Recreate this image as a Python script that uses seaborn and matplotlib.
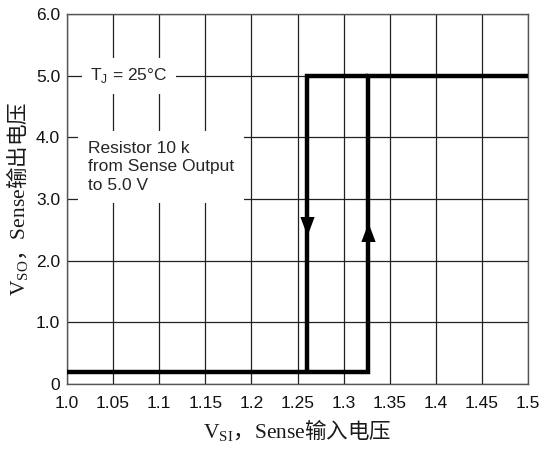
import matplotlib
matplotlib.use("Agg")
import matplotlib.pyplot as plt
import seaborn as sns
import pandas as pd

# Hysteresis of the sense comparator output
seg_rise_x = [1.0, 1.326, 1.326, 1.5]
seg_rise_y = [0.2, 0.2, 5.0, 5.0]
seg_fall_x = [1.326, 1.26, 1.26]
seg_fall_y = [5.0, 5.0, 0.2]

# Direction arrowheads (centre of each head)
arrow_x = [1.26, 1.326]
arrow_y = [2.57, 2.47]
arrow_dir = ["down", "up"]

x_ticks = [1.0, 1.05, 1.1, 1.15, 1.2, 1.25, 1.3, 1.35, 1.4, 1.45, 1.5]
x_tick_labels = ["1.0", "1.05", "1.1", "1.15", "1.2", "1.25", "1.3", "1.35", "1.4", "1.45", "1.5"]
y_ticks = [0, 1, 2, 3, 4, 5, 6]
y_tick_labels = ["0", "1.0", "2.0", "3.0", "4.0", "5.0", "6.0"]

sns.set_style("white")
plt.rcParams["font.family"] = ["Liberation Sans", "DejaVu Sans"]
plt.rcParams["mathtext.fontset"] = "custom"
plt.rcParams["mathtext.rm"] = "Liberation Serif"

fig = plt.figure(figsize=(5.44, 4.5), dpi=100)
ax = fig.add_axes([67 / 544, 1 - 384 / 450, (528 - 67) / 544, (384 - 14) / 450])

df = pd.DataFrame({
    "x": seg_rise_x + seg_fall_x,
    "y": seg_rise_y + seg_fall_y,
    "seg": ["rise"] * len(seg_rise_x) + ["fall"] * len(seg_fall_x),
})
sns.lineplot(data=df, x="x", y="y", units="seg", estimator=None, sort=False,
             color="black", linewidth=3.2, ax=ax, zorder=4,
             solid_joinstyle="miter", solid_capstyle="butt")

heads = {
    "down": [(0, -1), (-0.75, 1), (0.75, 1)],
    "up": [(0, 1), (-0.75, -1), (0.75, -1)],
}
for xv, yv, d in zip(arrow_x, arrow_y, arrow_dir):
    ax.scatter([xv], [yv], marker=heads[d], s=13.7 ** 2, color="black",
               linewidths=0, zorder=5)

ax.set_xlim(1.0, 1.5)
ax.set_ylim(0, 6.0)
ax.set_xticks(x_ticks)
ax.set_xticklabels(x_tick_labels)
ax.set_yticks(y_ticks)
ax.set_yticklabels(y_tick_labels)
ax.tick_params(axis="both", length=0, labelsize=12.5, colors="#111111")
ax.tick_params(axis="x", pad=9)
ax.tick_params(axis="y", pad=5)

ax.grid(True, color="#222222", linewidth=0.9)
ax.set_axisbelow(True)
for s in ax.spines.values():
    s.set_color("#555555")
    s.set_linewidth(1.0)

label_font = "Noto Sans CJK SC"
ax.set_xlabel(r"$\mathrm{V_{SI}}$，$\mathrm{Sense}$输入电压", family=label_font,
              fontsize=15.5, color="#1a1a1a", labelpad=4)
ax.set_ylabel(r"$\mathrm{V_{SO}}$，$\mathrm{Sense}$输出电压", family=label_font,
              fontsize=15.5, color="#1a1a1a", labelpad=4)

ax.text(1.025, 5.0, r"T$_\mathregular{J}$ = 25°C", fontsize=12.5, va="center",
        ha="left", zorder=3,
        bbox=dict(facecolor="white", edgecolor="none", pad=6))
ax.text(1.0225, 3.52, "Resistor 10 k\nfrom Sense Output\nto 5.0 V", fontsize=12.5,
        va="center", ha="left", linespacing=1.3, zorder=3,
        bbox=dict(facecolor="white", edgecolor="none", pad=7))

fig.savefig("out.png", dpi=100)
